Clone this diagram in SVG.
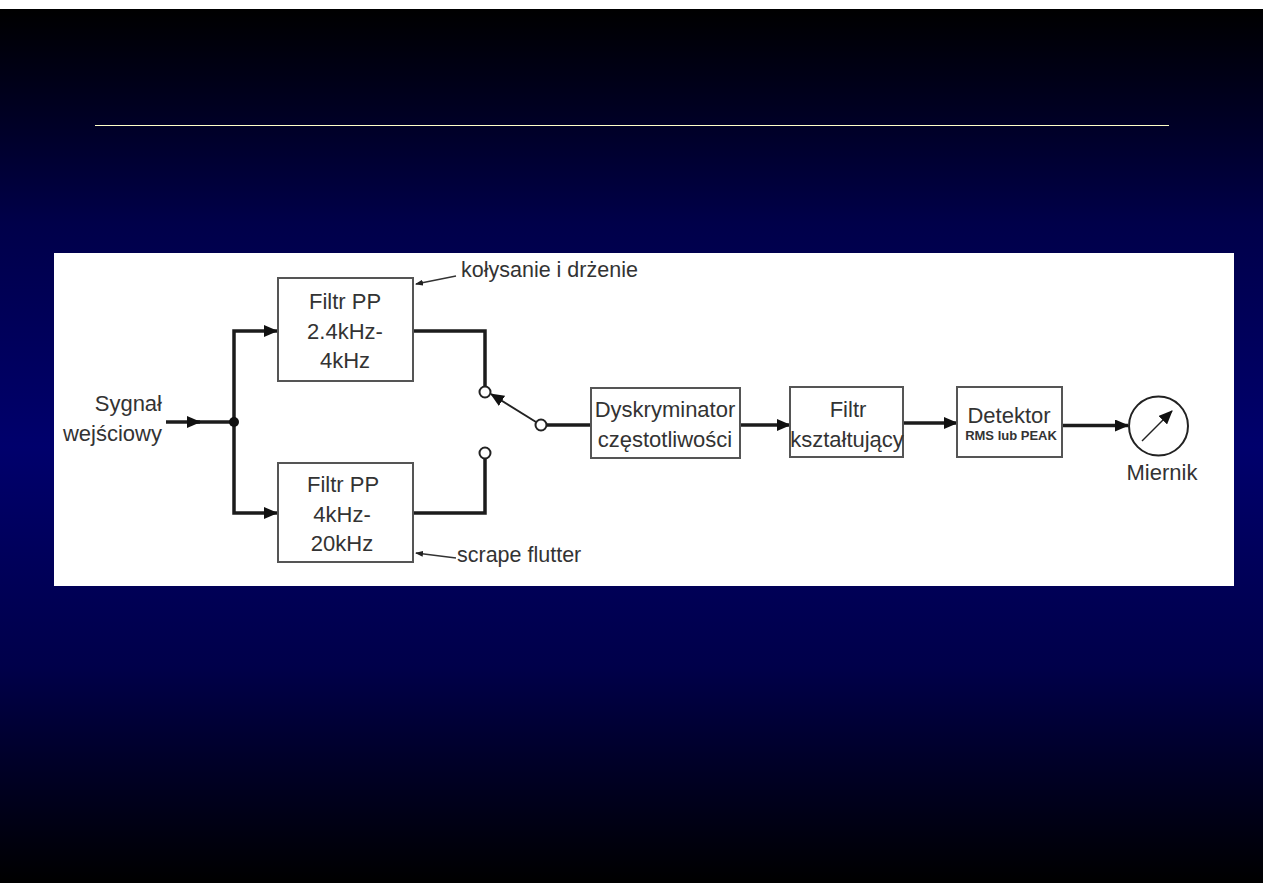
<svg xmlns="http://www.w3.org/2000/svg" width="1263" height="893" viewBox="0 0 1263 893">
  <style>
    .box { fill: #fff; stroke: #555; stroke-width: 2; }
    .wire { fill: none; stroke: #1c1c1c; stroke-width: 3.5; }
    .leader { fill: none; stroke: #333; stroke-width: 1.5; }
    .term { fill: #fff; stroke: #222; stroke-width: 2; }
    text { font-family: "Liberation Sans", Arial, sans-serif; font-size: 22px; fill: #333; text-anchor: middle; }
    .start { text-anchor: start; font-size: 21.5px; }
    .end { text-anchor: end; }
    .small { font-size: 13px; font-weight: bold; }
  </style>
  <defs>
    <linearGradient id="backdrop" x1="0" y1="0" x2="0" y2="1">
      <stop offset="0" stop-color="#000"/>
      <stop offset="0.138" stop-color="#000028"/>
      <stop offset="0.247" stop-color="#00004a"/>
      <stop offset="0.5" stop-color="#00006c"/>
      <stop offset="0.752" stop-color="#00004a"/>
      <stop offset="0.862" stop-color="#000028"/>
      <stop offset="1" stop-color="#000"/>
    </linearGradient>
    <marker id="head" markerUnits="userSpaceOnUse" markerWidth="14" markerHeight="12" refX="13" refY="6" orient="auto">
      <path d="M0 0L14 6L0 12Z" fill="#111"/>
    </marker>
    <marker id="tick" markerUnits="userSpaceOnUse" markerWidth="8" markerHeight="6" refX="7" refY="3" orient="auto">
      <path d="M0 0L8 3L0 6Z" fill="#222"/>
    </marker>
  </defs>

  <rect width="1263" height="893" fill="#fff"/>
  <rect y="9" width="1263" height="874" fill="url(#backdrop)"/>
  <rect x="95" y="125" width="1074" height="1" fill="#ffffc8"/>
  <rect x="54" y="253" width="1180" height="333" fill="#fff"/>

  <g id="connectors">
    <path class="wire" d="M166 422H234"/>
    <path class="wire" d="M187 422H200" marker-end="url(#head)"/>
    <path class="wire" d="M234 422V331H277" marker-end="url(#head)"/>
    <path class="wire" d="M234 422V513H277" marker-end="url(#head)"/>
    <circle cx="234" cy="422" r="5" fill="#111"/>
    <path class="wire" d="M413 331H485V387"/>
    <path class="wire" d="M413 513H485V458"/>
    <path d="M536 422L491 394" fill="none" stroke="#222" stroke-width="2" marker-end="url(#head)"/>
    <path class="wire" d="M547 425H591"/>
    <path class="wire" d="M740 425H790" marker-end="url(#head)"/>
    <path class="wire" d="M903 423H957" marker-end="url(#head)"/>
    <path class="wire" d="M1062 425.500H1128" marker-end="url(#head)"/>
    <path class="leader" d="M456 276L416 284" marker-end="url(#tick)"/>
    <path class="leader" d="M456 558L416 553" marker-end="url(#tick)"/>
  </g>

  <g id="switch">
    <circle class="term" cx="485" cy="392" r="5.500"/>
    <circle class="term" cx="541" cy="425" r="5.500"/>
    <circle class="term" cx="485" cy="453" r="5.500"/>
  </g>

  <g id="input-label">
    <text class="end" x="162" y="411">Sygnał</text>
    <text class="end" x="162" y="441">wejściowy</text>
  </g>

  <g id="filter-upper">
    <rect class="box" x="278" y="278" width="135" height="103"/>
    <text x="345" y="309">Filtr PP</text>
    <text x="345" y="339">2.4kHz-</text>
    <text x="345" y="368">4kHz</text>
  </g>
  <g id="filter-lower">
    <rect class="box" x="278" y="463" width="135" height="99"/>
    <text x="343" y="492">Filtr PP</text>
    <text x="342" y="522">4kHz-</text>
    <text x="342" y="551">20kHz</text>
  </g>
  <g id="note-upper"><text class="start" x="461" y="277">kołysanie i drżenie</text></g>
  <g id="note-lower"><text class="start" x="457" y="562">scrape flutter</text></g>

  <g id="discriminator">
    <rect class="box" x="591" y="388" width="149" height="70"/>
    <text x="665" y="417">Dyskryminator</text>
    <text x="665" y="447">częstotliwości</text>
  </g>
  <g id="shaping-filter">
    <rect class="box" x="790" y="387" width="113" height="70"/>
    <text x="848" y="417">Filtr</text>
    <text x="847" y="447">kształtujący</text>
  </g>
  <g id="detector">
    <rect class="box" x="957" y="387" width="105" height="70"/>
    <text x="1009" y="423">Detektor</text>
    <text class="small" x="1011" y="440">RMS lub PEAK</text>
  </g>
  <g id="meter">
    <circle cx="1158.500" cy="426" r="29.500" fill="#fff" stroke="#222" stroke-width="2"/>
    <path d="M1142 441L1172 411" stroke="#222" stroke-width="1.500" marker-end="url(#head)"/>
    <text x="1162" y="480">Miernik</text>
  </g>
</svg>
